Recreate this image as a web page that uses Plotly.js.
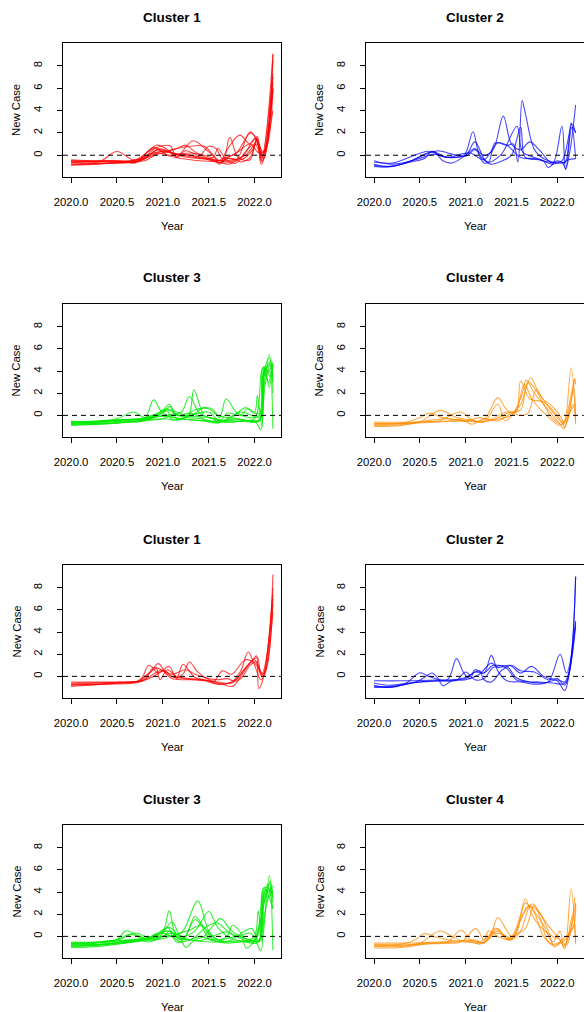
<!DOCTYPE html>
<html><head><meta charset="utf-8">
<script src="https://cdn.plot.ly/plotly-3.0.1.min.js"></script>
<style>html,body{margin:0;padding:0;background:#fff}#chart{width:584px;height:1012px}</style>
</head><body><div id="chart"></div>
<script>
const panelTitles = ["Cluster 1","Cluster 2","Cluster 3","Cluster 4","Cluster 1","Cluster 2","Cluster 3","Cluster 4"];
const xTickValues = [2020.0, 2020.5, 2021.0, 2021.5, 2022.0];
const xTickLabels = ["2020.0", "2020.5", "2021.0", "2021.5", "2022.0"];
const yTickValues = [0, 2, 4, 6, 8];
const xAxisTitle = "Year";
const yAxisTitle = "New Case";
const panelColors = ["rgba(255,0,0,0.72)","rgba(0,0,255,0.72)","rgba(0,235,0,0.8)","rgba(255,140,0,0.72)",
                     "rgba(255,0,0,0.72)","rgba(0,0,255,0.72)","rgba(0,235,0,0.8)","rgba(255,140,0,0.72)"];

// Each curve: list of [year, value] points
const cluster1TopCurves = [
 [[2020.0,-0.6],[2020.3,-0.6],[2020.5,0.33],[2020.67,-0.4],[2020.8,-0.3],[2020.95,0.5],[2021.1,0.2],[2021.3,0.0],[2021.5,-0.3],[2021.7,-0.5],[2021.9,0.0],[2022.02,1.0],[2022.1,0.3],[2022.15,2.5],[2022.2,9.1]],
 [[2020.0,-0.9],[2020.3,-0.8],[2020.6,-0.6],[2020.7,-0.7],[2020.93,0.9],[2021.05,0.5],[2021.15,-0.1],[2021.33,1.3],[2021.5,0.3],[2021.62,-0.5],[2021.8,-0.4],[2021.95,2.1],[2022.03,1.2],[2022.08,-0.6],[2022.13,0.5],[2022.2,7.3]],
 [[2020.0,-0.5],[2020.4,-0.5],[2020.7,-0.4],[2020.9,0.6],[2021.08,0.85],[2021.15,-0.2],[2021.25,0.4],[2021.4,0.0],[2021.5,0.8],[2021.58,0.6],[2021.65,-0.3],[2021.8,0.2],[2021.95,1.0],[2022.05,0.2],[2022.12,0.5],[2022.2,6.0]],
 [[2020.0,-0.8],[2020.5,-0.7],[2020.75,-0.5],[2020.95,0.3],[2021.2,0.0],[2021.5,-0.4],[2021.65,-0.6],[2021.73,1.6],[2021.82,-0.2],[2021.95,-0.4],[2022.02,1.3],[2022.08,-0.2],[2022.2,5.8]],
 [[2020.0,-0.6],[2020.5,-0.5],[2020.7,-0.6],[2020.9,0.7],[2021.0,0.3],[2021.1,0.5],[2021.3,0.8],[2021.45,0.8],[2021.55,0.0],[2021.62,-0.7],[2021.7,0.5],[2021.84,1.8],[2021.95,1.0],[2022.02,1.6],[2022.07,-0.8],[2022.13,0.8],[2022.2,8.5]],
 [[2020.0,-0.7],[2020.6,-0.6],[2020.8,-0.2],[2020.95,0.5],[2021.05,0.0],[2021.2,-0.3],[2021.4,-0.5],[2021.6,-0.6],[2021.72,-0.8],[2021.8,-0.5],[2021.9,0.2],[2022.0,1.5],[2022.09,0.0],[2022.2,6.5]],
 [[2020.0,-0.4],[2020.3,-0.5],[2020.7,-0.45],[2020.9,0.2],[2021.1,0.0],[2021.3,0.2],[2021.45,0.0],[2021.55,-0.2],[2021.6,0.6],[2021.7,-0.5],[2021.8,-0.7],[2021.9,0.3],[2022.0,1.0],[2022.08,0.0],[2022.2,4.0]],
 [[2020.0,-0.85],[2020.4,-0.7],[2020.7,-0.6],[2020.9,0.0],[2021.0,0.2],[2021.15,0.6],[2021.25,0.9],[2021.35,0.3],[2021.5,-0.3],[2021.6,-0.5],[2021.75,-0.3],[2021.85,-0.6],[2021.95,-0.2],[2022.03,1.5],[2022.07,-0.5],[2022.2,7.0]],
 [[2020.0,-0.5],[2020.5,-0.6],[2020.8,-0.5],[2021.0,0.4],[2021.15,0.1],[2021.3,0.0],[2021.45,-0.3],[2021.6,-0.5],[2021.65,-0.3],[2021.8,0.2],[2021.96,2.0],[2022.05,1.0],[2022.1,-0.3],[2022.2,6.0]],
 [[2020.0,-0.6],[2020.5,-0.55],[2020.75,-0.5],[2020.92,0.6],[2021.05,0.4],[2021.2,-0.1],[2021.4,-0.3],[2021.55,-0.4],[2021.62,-0.8],[2021.7,-0.3],[2021.85,-0.4],[2021.98,0.5],[2022.03,1.7],[2022.08,-0.5],[2022.2,9.0]]
];
const cluster2TopCurves = [
 [[2020.0,-0.6],[2020.2,-0.7],[2020.6,0.35],[2020.75,-0.1],[2020.95,-0.1],[2021.0,0.2],[2021.08,2.1],[2021.15,0.1],[2021.25,-0.6],[2021.32,1.1],[2021.45,0.9],[2021.52,1.0],[2021.57,-0.6],[2021.615,4.9],[2021.65,3.8],[2021.75,0.5],[2021.85,-0.3],[2021.95,-0.6],[2022.05,-0.5],[2022.16,2.8],[2022.2,2.0]],
 [[2020.0,-0.8],[2020.15,-1.0],[2020.35,-0.7],[2020.6,0.2],[2020.7,0.4],[2020.85,0.1],[2021.0,-0.1],[2021.1,0.5],[2021.2,0.0],[2021.3,0.5],[2021.41,3.5],[2021.5,1.0],[2021.6,0.5],[2021.7,1.2],[2021.8,0.5],[2021.95,-0.7],[2022.05,2.6],[2022.09,-1.3],[2022.14,0.5],[2022.2,4.5]],
 [[2020.0,-0.9],[2020.2,-1.0],[2020.4,-0.5],[2020.65,0.3],[2020.75,-0.5],[2020.85,-0.7],[2021.0,0.0],[2021.1,0.6],[2021.2,-0.7],[2021.3,-0.5],[2021.4,0.2],[2021.56,2.6],[2021.62,0.3],[2021.75,-0.2],[2021.85,-0.5],[2021.9,-1.1],[2022.0,-0.5],[2022.08,-0.7],[2022.15,2.9],[2022.2,-0.3]],
 [[2020.0,-0.5],[2020.2,-0.8],[2020.5,-0.3],[2020.65,0.1],[2020.8,-0.2],[2021.0,0.0],[2021.1,1.2],[2021.2,-0.3],[2021.27,-0.8],[2021.4,-0.5],[2021.5,0.0],[2021.6,2.5],[2021.65,-0.2],[2021.8,-0.4],[2021.95,-0.8],[2022.05,-0.6],[2022.09,-1.2],[2022.16,2.5],[2022.2,2.0]],
 [[2020.0,-1.0],[2020.15,-1.05],[2020.4,-0.6],[2020.55,-0.3],[2020.63,0.35],[2020.8,-0.2],[2020.95,0.1],[2021.05,0.2],[2021.2,-0.4],[2021.35,1.1],[2021.45,0.9],[2021.6,-0.2],[2021.75,-0.3],[2021.9,-0.6],[2022.05,-0.7],[2022.12,-0.4],[2022.2,-0.3]]
];
const cluster3TopCurves = [
 [[2020.0,-0.7],[2020.3,-0.6],[2020.6,-0.4],[2020.8,-0.3],[2020.9,1.4],[2021.0,0.2],[2021.2,-0.3],[2021.5,-0.5],[2021.8,-0.4],[2022.0,-0.3],[2022.09,4.3],[2022.15,4.0],[2022.2,4.8]],
 [[2020.0,-0.9],[2020.3,-0.8],[2020.6,-0.6],[2020.85,-0.3],[2021.0,0.5],[2021.07,1.0],[2021.15,0.0],[2021.3,0.2],[2021.5,-0.5],[2021.75,-0.6],[2022.0,-0.5],[2022.07,-1.3],[2022.1,4.4],[2022.15,3.0],[2022.2,4.6]],
 [[2020.0,-0.6],[2020.3,-0.5],[2020.5,-0.3],[2020.68,0.3],[2020.8,-0.2],[2021.0,0.0],[2021.2,0.3],[2021.29,1.7],[2021.4,0.2],[2021.55,-0.3],[2021.8,-0.5],[2022.05,-0.4],[2022.1,2.5],[2022.16,5.5],[2022.2,-1.2]],
 [[2020.0,-0.8],[2020.3,-0.7],[2020.6,-0.5],[2020.72,-0.6],[2020.9,-0.2],[2021.0,0.3],[2021.08,0.8],[2021.15,-0.3],[2021.28,0.0],[2021.34,2.3],[2021.45,0.0],[2021.55,-0.3],[2021.6,-0.6],[2021.8,-0.3],[2022.05,-0.5],[2022.1,3.5],[2022.17,4.8],[2022.2,3.0]],
 [[2020.0,-0.7],[2020.4,-0.6],[2020.7,-0.4],[2020.9,0.0],[2021.05,0.6],[2021.15,0.3],[2021.3,0.0],[2021.45,0.7],[2021.55,0.5],[2021.62,-0.2],[2021.69,1.5],[2021.8,0.3],[2021.95,-0.2],[2022.05,0.0],[2022.1,4.0],[2022.17,4.5],[2022.2,4.2]],
 [[2020.0,-0.5],[2020.2,-0.6],[2020.5,-0.4],[2020.75,-0.3],[2020.95,0.2],[2021.05,0.5],[2021.2,-0.1],[2021.4,-0.3],[2021.6,-0.6],[2021.75,-0.2],[2021.9,0.7],[2022.0,0.3],[2022.03,1.8],[2022.08,-1.0],[2022.12,4.3],[2022.17,3.5],[2022.2,4.5]],
 [[2020.0,-0.65],[2020.3,-0.55],[2020.6,-0.35],[2020.8,-0.3],[2021.0,-0.1],[2021.2,-0.3],[2021.45,-0.5],[2021.6,-0.7],[2021.7,-0.3],[2021.85,0.3],[2022.0,-0.1],[2022.06,-0.2],[2022.12,3.0],[2022.18,5.0],[2022.2,2.0]],
 [[2020.0,-0.75],[2020.5,-0.7],[2020.8,-0.5],[2021.0,-0.3],[2021.1,0.0],[2021.3,-0.1],[2021.5,-0.2],[2021.7,-0.6],[2021.9,-0.5],[2022.05,-0.5],[2022.09,4.2],[2022.14,4.0],[2022.2,3.8]],
 [[2020.0,-0.55],[2020.3,-0.5],[2020.6,-0.4],[2020.9,-0.2],[2021.05,0.4],[2021.1,-0.4],[2021.3,0.0],[2021.5,0.3],[2021.62,-0.5],[2021.7,0.2],[2021.85,0.0],[2021.92,0.6],[2022.0,0.2],[2022.06,0.2],[2022.11,4.4],[2022.16,2.5],[2022.19,4.7]],
 [[2020.0,-0.85],[2020.4,-0.75],[2020.7,-0.5],[2021.0,-0.3],[2021.2,-0.4],[2021.35,0.5],[2021.5,0.6],[2021.6,0.0],[2021.8,-0.3],[2022.0,-0.5],[2022.06,-0.4],[2022.1,3.8],[2022.16,5.2],[2022.2,3.5]]
];
const cluster4TopCurves = [
 [[2020.0,-0.7],[2020.3,-0.7],[2020.5,-0.2],[2020.6,0.2],[2020.75,-0.2],[2020.9,-0.4],[2021.05,-0.5],[2021.2,-0.4],[2021.35,1.6],[2021.45,0.5],[2021.55,0.3],[2021.6,3.1],[2021.7,1.5],[2021.85,1.2],[2022.0,0.0],[2022.07,-0.8],[2022.15,4.3],[2022.2,-0.8]],
 [[2020.0,-0.9],[2020.3,-0.85],[2020.5,-0.6],[2020.72,0.45],[2020.9,-0.2],[2021.05,-0.4],[2021.2,-0.6],[2021.35,1.0],[2021.43,-0.5],[2021.52,0.2],[2021.62,2.0],[2021.66,3.2],[2021.75,2.0],[2021.9,0.5],[2022.03,-0.8],[2022.07,-1.2],[2022.12,0.0],[2022.19,3.3]],
 [[2020.0,-0.6],[2020.5,-0.6],[2020.7,-0.5],[2020.95,0.3],[2021.05,-0.3],[2021.15,-0.6],[2021.3,-0.4],[2021.5,0.0],[2021.6,1.0],[2021.71,3.4],[2021.8,2.0],[2021.95,0.3],[2022.05,-0.6],[2022.1,-0.5],[2022.17,1.0],[2022.2,-0.5]],
 [[2020.0,-1.0],[2020.3,-0.9],[2020.5,-0.6],[2020.8,-0.5],[2020.95,-0.4],[2021.07,-0.8],[2021.2,-0.3],[2021.35,-0.5],[2021.5,0.2],[2021.6,0.5],[2021.68,3.0],[2021.75,2.5],[2021.85,1.0],[2021.95,-0.3],[2022.05,-0.8],[2022.1,0.0],[2022.19,3.3],[2022.2,2.8]],
 [[2020.0,-0.8],[2020.3,-0.75],[2020.55,-0.5],[2020.8,-0.3],[2021.0,-0.5],[2021.15,-0.2],[2021.25,-0.4],[2021.45,0.3],[2021.6,0.0],[2021.68,0.2],[2021.77,2.3],[2021.85,1.4],[2021.95,0.8],[2022.05,-0.3],[2022.08,-1.1],[2022.15,0.5],[2022.2,1.0]],
 [[2020.0,-0.75],[2020.4,-0.7],[2020.7,-0.6],[2021.0,-0.5],[2021.15,-0.6],[2021.3,-0.4],[2021.45,0.2],[2021.55,0.5],[2021.64,2.8],[2021.72,1.5],[2021.82,0.5],[2021.95,-0.5],[2022.02,-0.9],[2022.1,-0.3],[2022.18,2.5],[2022.2,0.0]]
];
const cluster1BottomCurves = [
 [[2020.0,-0.7],[2020.3,-0.6],[2020.6,-0.5],[2020.75,-0.4],[2020.85,1.0],[2020.95,0.3],[2021.07,0.9],[2021.15,-0.2],[2021.22,1.1],[2021.35,-0.1],[2021.5,-0.4],[2021.6,-0.7],[2021.75,-0.5],[2021.85,0.5],[2021.93,2.2],[2022.0,1.0],[2022.07,-0.3],[2022.13,1.0],[2022.2,9.2]],
 [[2020.0,-0.9],[2020.2,-0.8],[2020.5,-0.6],[2020.75,-0.4],[2020.88,0.5],[2020.95,1.15],[2021.05,0.2],[2021.15,-0.1],[2021.22,0.2],[2021.29,1.3],[2021.38,0.4],[2021.5,-0.3],[2021.6,-0.5],[2021.75,-0.6],[2021.88,0.5],[2021.98,1.5],[2022.02,1.85],[2022.045,-1.1],[2022.1,0.0],[2022.2,7.4]],
 [[2020.0,-0.6],[2020.4,-0.55],[2020.7,-0.5],[2020.85,0.3],[2020.93,0.7],[2020.97,-0.3],[2021.05,0.6],[2021.15,0.0],[2021.3,-0.2],[2021.45,-0.3],[2021.55,-0.5],[2021.65,0.5],[2021.75,0.2],[2021.9,1.5],[2022.0,1.2],[2022.06,0.5],[2022.1,0.0],[2022.2,5.8]],
 [[2020.0,-0.8],[2020.3,-0.7],[2020.6,-0.55],[2020.8,-0.3],[2020.9,0.8],[2021.0,0.5],[2021.1,-0.2],[2021.3,-0.3],[2021.5,-0.4],[2021.65,-0.7],[2021.76,-0.9],[2021.85,0.0],[2021.95,1.2],[2022.03,1.7],[2022.07,0.2],[2022.12,0.5],[2022.2,7.0]],
 [[2020.0,-0.5],[2020.5,-0.5],[2020.75,-0.45],[2020.9,0.0],[2021.0,0.5],[2021.1,0.2],[2021.25,0.6],[2021.35,0.2],[2021.5,-0.2],[2021.6,-0.3],[2021.7,-0.2],[2021.78,-0.4],[2021.9,0.8],[2022.0,1.5],[2022.08,0.0],[2022.2,8.0]],
 [[2020.0,-0.75],[2020.4,-0.7],[2020.75,-0.5],[2020.9,0.2],[2021.0,0.6],[2021.1,0.0],[2021.25,-0.2],[2021.45,-0.4],[2021.6,-0.7],[2021.72,-0.6],[2021.85,-0.2],[2021.95,1.0],[2022.02,1.3],[2022.08,0.3],[2022.2,6.5]]
];
const cluster2BottomCurves = [
 [[2020.0,-0.4],[2020.3,-0.4],[2020.6,-0.35],[2020.85,-0.3],[2021.0,-0.2],[2021.1,0.4],[2021.2,0.3],[2021.3,1.0],[2021.45,0.7],[2021.55,-0.3],[2021.7,-0.5],[2021.85,-0.6],[2022.0,-0.3],[2022.08,-0.5],[2022.14,1.0],[2022.2,9.0]],
 [[2020.0,-0.8],[2020.18,-1.0],[2020.35,-0.6],[2020.5,0.33],[2020.6,0.0],[2020.8,-0.3],[2020.9,1.6],[2020.98,0.3],[2021.05,-0.2],[2021.1,0.6],[2021.2,0.3],[2021.28,1.9],[2021.35,0.5],[2021.45,-0.4],[2021.6,-0.5],[2021.75,-0.7],[2021.9,-0.5],[2022.03,2.0],[2022.1,0.3],[2022.2,5.0]],
 [[2020.0,-0.9],[2020.2,-0.9],[2020.45,-0.5],[2020.55,-0.1],[2020.63,0.3],[2020.7,-0.2],[2020.75,-0.85],[2020.85,-0.4],[2021.0,-0.3],[2021.15,0.2],[2021.28,1.2],[2021.35,0.8],[2021.48,1.0],[2021.6,0.3],[2021.72,0.9],[2021.85,0.0],[2022.0,-0.4],[2022.08,-1.3],[2022.13,0.3],[2022.2,4.8]],
 [[2020.0,-0.6],[2020.15,-0.8],[2020.3,-0.7],[2020.5,-0.5],[2020.7,-0.4],[2020.9,-0.35],[2021.0,0.4],[2021.1,-0.3],[2021.2,-0.2],[2021.3,0.8],[2021.45,0.9],[2021.55,-0.1],[2021.7,-0.5],[2021.8,-0.5],[2021.95,-0.6],[2022.05,-0.7],[2022.1,-0.5],[2022.2,9.0]],
 [[2020.0,-1.0],[2020.2,-0.95],[2020.4,-0.6],[2020.6,-0.45],[2020.85,-0.35],[2021.0,-0.1],[2021.15,0.5],[2021.2,-0.3],[2021.28,-0.5],[2021.4,0.6],[2021.5,1.0],[2021.6,0.5],[2021.75,0.4],[2021.9,-0.3],[2022.0,-0.2],[2022.08,-0.8],[2022.2,4.5]]
];
const cluster3BottomCurves = [
 [[2020.0,-0.7],[2020.3,-0.6],[2020.5,-0.3],[2020.6,0.5],[2020.75,0.0],[2020.9,-0.3],[2021.0,0.3],[2021.07,2.3],[2021.15,0.0],[2021.3,-0.3],[2021.5,-0.5],[2021.8,-0.4],[2022.0,-0.3],[2022.1,4.3],[2022.15,4.0],[2022.2,4.6]],
 [[2020.0,-0.9],[2020.3,-0.8],[2020.6,-0.5],[2020.8,-0.3],[2021.0,0.0],[2021.2,0.3],[2021.38,3.2],[2021.5,0.5],[2021.6,-0.3],[2021.8,-0.5],[2022.0,-0.4],[2022.07,-1.3],[2022.11,4.3],[2022.2,2.5]],
 [[2020.0,-0.6],[2020.3,-0.5],[2020.55,-0.2],[2020.7,0.3],[2020.85,-0.1],[2021.0,0.4],[2021.1,1.3],[2021.2,0.0],[2021.35,0.5],[2021.5,2.25],[2021.6,0.8],[2021.75,-0.2],[2021.9,-0.4],[2022.0,0.0],[2022.04,2.3],[2022.08,-0.5],[2022.16,5.5],[2022.2,-1.25]],
 [[2020.0,-0.8],[2020.35,-0.7],[2020.6,-0.4],[2020.8,-0.2],[2020.95,0.2],[2021.07,0.8],[2021.2,-0.3],[2021.25,-1.0],[2021.35,-0.3],[2021.45,0.0],[2021.55,1.0],[2021.63,1.6],[2021.75,0.5],[2021.85,0.0],[2022.0,-0.4],[2022.1,3.0],[2022.17,4.8],[2022.2,3.5]],
 [[2020.0,-0.65],[2020.3,-0.55],[2020.6,-0.35],[2020.8,-0.2],[2021.0,0.0],[2021.08,0.5],[2021.18,-0.3],[2021.25,0.0],[2021.35,1.8],[2021.45,0.8],[2021.55,-0.3],[2021.7,-0.6],[2021.85,-0.5],[2022.0,-0.5],[2022.06,-0.3],[2022.1,4.4],[2022.2,4.0]],
 [[2020.0,-1.0],[2020.3,-0.9],[2020.6,-0.6],[2020.8,-0.4],[2021.0,-0.2],[2021.15,0.2],[2021.3,0.6],[2021.42,1.0],[2021.5,0.3],[2021.6,-0.3],[2021.7,0.0],[2021.76,1.0],[2021.85,0.3],[2021.91,-1.05],[2022.0,-0.3],[2022.12,3.5],[2022.17,5.0],[2022.2,3.0]],
 [[2020.0,-0.5],[2020.3,-0.5],[2020.5,-0.3],[2020.65,0.2],[2020.8,-0.2],[2020.95,0.3],[2021.05,0.8],[2021.15,-0.5],[2021.3,-0.3],[2021.4,0.0],[2021.55,-0.4],[2021.7,-0.5],[2021.9,0.5],[2021.97,0.7],[2022.05,-0.4],[2022.12,2.5],[2022.18,4.5]],
 [[2020.0,-0.75],[2020.4,-0.7],[2020.7,-0.45],[2020.9,-0.1],[2021.05,0.5],[2021.15,0.0],[2021.3,-0.3],[2021.5,1.0],[2021.6,1.2],[2021.7,0.5],[2021.8,0.0],[2021.95,0.3],[2022.05,-0.5],[2022.1,4.0],[2022.15,3.5],[2022.2,4.2]],
 [[2020.0,-0.85],[2020.3,-0.75],[2020.55,-0.5],[2020.8,-0.3],[2020.95,0.3],[2021.1,0.0],[2021.2,-0.5],[2021.35,1.5],[2021.42,1.0],[2021.5,-0.2],[2021.65,-0.3],[2021.8,0.0],[2021.95,-0.3],[2022.05,-0.4],[2022.12,4.2],[2022.2,3.8]],
 [[2020.0,-0.6],[2020.2,-0.6],[2020.5,-0.4],[2020.75,-0.3],[2020.85,-0.5],[2021.0,0.0],[2021.1,0.3],[2021.25,-0.2],[2021.4,-0.4],[2021.6,0.2],[2021.7,0.4],[2021.85,-0.2],[2021.95,-0.6],[2022.04,-0.5],[2022.08,2.0],[2022.14,4.7],[2022.2,2.5]]
];
const cluster4BottomCurves = [
 [[2020.0,-0.7],[2020.3,-0.7],[2020.45,-0.3],[2020.55,0.25],[2020.65,0.0],[2020.8,-0.3],[2021.0,-0.5],[2021.15,-0.6],[2021.25,-0.3],[2021.35,1.7],[2021.45,0.5],[2021.5,0.0],[2021.6,2.0],[2021.65,3.4],[2021.72,2.0],[2021.8,1.0],[2021.95,0.0],[2022.03,-0.3],[2022.08,-1.15],[2022.15,4.3],[2022.2,-0.7]],
 [[2020.0,-0.9],[2020.3,-0.9],[2020.5,-0.6],[2020.72,0.48],[2020.85,0.0],[2021.0,-0.5],[2021.1,-0.3],[2021.2,-0.6],[2021.32,0.75],[2021.45,-0.2],[2021.5,-0.3],[2021.6,0.5],[2021.7,2.8],[2021.74,2.9],[2021.82,1.5],[2021.9,-0.5],[2021.98,-0.8],[2022.05,-0.5],[2022.12,0.0],[2022.19,3.5]],
 [[2020.0,-1.05],[2020.3,-1.0],[2020.55,-0.7],[2020.8,-0.5],[2020.95,0.55],[2021.05,-0.3],[2021.15,-0.7],[2021.25,-0.2],[2021.35,0.5],[2021.48,-0.35],[2021.55,0.5],[2021.68,2.7],[2021.8,2.2],[2021.9,0.5],[2021.97,-0.95],[2022.05,-0.3],[2022.1,0.0],[2022.18,1.0],[2022.2,3.0]],
 [[2020.0,-0.8],[2020.4,-0.75],[2020.7,-0.6],[2020.95,-0.5],[2021.11,0.7],[2021.2,-0.3],[2021.25,0.5],[2021.35,0.0],[2021.48,-0.3],[2021.55,0.3],[2021.65,3.0],[2021.72,2.5],[2021.85,1.0],[2021.95,-0.5],[2022.03,0.5],[2022.07,-1.0],[2022.15,0.5],[2022.2,1.0]],
 [[2020.0,-0.6],[2020.4,-0.6],[2020.7,-0.5],[2021.0,-0.4],[2021.15,-0.5],[2021.25,0.0],[2021.35,0.7],[2021.45,-0.2],[2021.55,0.2],[2021.65,0.7],[2021.75,2.8],[2021.8,2.2],[2021.9,1.0],[2022.0,0.0],[2022.08,-0.8],[2022.17,2.0],[2022.2,-0.5]],
 [[2020.0,-0.85],[2020.3,-0.8],[2020.6,-0.6],[2020.9,-0.5],[2021.05,-0.3],[2021.2,-0.6],[2021.3,0.3],[2021.45,0.0],[2021.52,-0.2],[2021.6,1.5],[2021.7,2.8],[2021.78,1.5],[2021.85,0.0],[2021.95,-0.7],[2022.05,-0.5],[2022.1,-0.8],[2022.17,1.5],[2022.2,3.0]]
];
const panelCurves = [cluster1TopCurves, cluster2TopCurves, cluster3TopCurves, cluster4TopCurves,
                     cluster1BottomCurves, cluster2BottomCurves, cluster3BottomCurves, cluster4BottomCurves];

// ---- layout geometry (pixels) ----
const W = 584, H = 1012;
const colLeft = [[63, 281], [366, 584]];
const rowTop = [[43, 177], [304, 437], [565, 698], [825, 958]];
const fontFam = "Liberation Sans, Arial, Helvetica, sans-serif";

const data = [];
const layout = {
  width: W, height: H, margin: {l: 0, r: 0, t: 0, b: 0},
  paper_bgcolor: "#fff", plot_bgcolor: "#fff", showlegend: false,
  font: {family: fontFam, color: "#000", size: 11},
  shapes: [], annotations: []
};

panelCurves.forEach((curves, i) => {
  const n = i + 1;
  const col = i % 2, row = Math.floor(i / 2);
  const xs = n === 1 ? "x" : "x" + n, ys = n === 1 ? "y" : "y" + n;
  const xa = n === 1 ? "xaxis" : "xaxis" + n, ya = n === 1 ? "yaxis" : "yaxis" + n;
  const [x0, x1] = colLeft[col], [t, b] = rowTop[row];
  layout[xa] = {
    domain: [x0 / W, Math.min(x1 / W, 0.9995)], anchor: ys,
    range: [2019.912, 2022.288], tickvals: xTickValues, ticktext: xTickLabels,
    ticks: "outside", ticklen: 5, tickwidth: 1, tickcolor: "#000",
    showline: true, mirror: true, linecolor: "#000", linewidth: 1,
    showgrid: false, zeroline: false, tickfont: {size: 11.3, family: fontFam, color: "#000"},
    ticklabelstandoff: 9, fixedrange: true
  };
  layout[ya] = {
    domain: [1 - b / H, 1 - t / H], anchor: xs,
    range: [-1.95, 10.05], tickvals: yTickValues,
    ticks: "outside", ticklen: 5, tickwidth: 1, tickcolor: "#000", tickangle: -90,
    showline: true, mirror: true, linecolor: "#000", linewidth: 1,
    showgrid: false, zeroline: false, tickfont: {size: 11.3, family: fontFam, color: "#000"},
    ticklabelstandoff: 10, fixedrange: true
  };
  curves.forEach(c => {
    data.push({
      type: "scatter", mode: "lines", xaxis: xs, yaxis: ys,
      x: c.map(p => p[0]), y: c.map(p => p[1]),
      line: {color: panelColors[i], width: 1.1, shape: "spline", smoothing: 1},
      hoverinfo: "skip"
    });
  });
  layout.shapes.push({type: "line", xref: xs + " domain", yref: ys, x0: 0, x1: 1, y0: 0, y1: 0,
    line: {color: "#000", width: 1, dash: "5px,4px"}});
  const cx = (x0 + x1) / 2 / W;
  layout.annotations.push({text: "<b>" + panelTitles[i] + "</b>", xref: "paper", yref: "paper",
    x: cx, y: 1 - (t - 26) / H, xanchor: "center", yanchor: "middle", showarrow: false,
    font: {size: 13.5, family: fontFam, color: "#000"}});
  layout.annotations.push({text: xAxisTitle, xref: "paper", yref: "paper",
    x: cx, y: 1 - (b + 49) / H, xanchor: "center", yanchor: "middle", showarrow: false,
    font: {size: 11.3, family: fontFam, color: "#000"}});
  layout.annotations.push({text: yAxisTitle, xref: "paper", yref: "paper", textangle: -90,
    x: (x0 - 47) / W, y: 1 - (t + b) / 2 / H, xanchor: "center", yanchor: "middle", showarrow: false,
    font: {size: 11.3, family: fontFam, color: "#000"}});
});

Plotly.newPlot("chart", data, layout, {displayModeBar: false, staticPlot: true});
</script></body></html>
